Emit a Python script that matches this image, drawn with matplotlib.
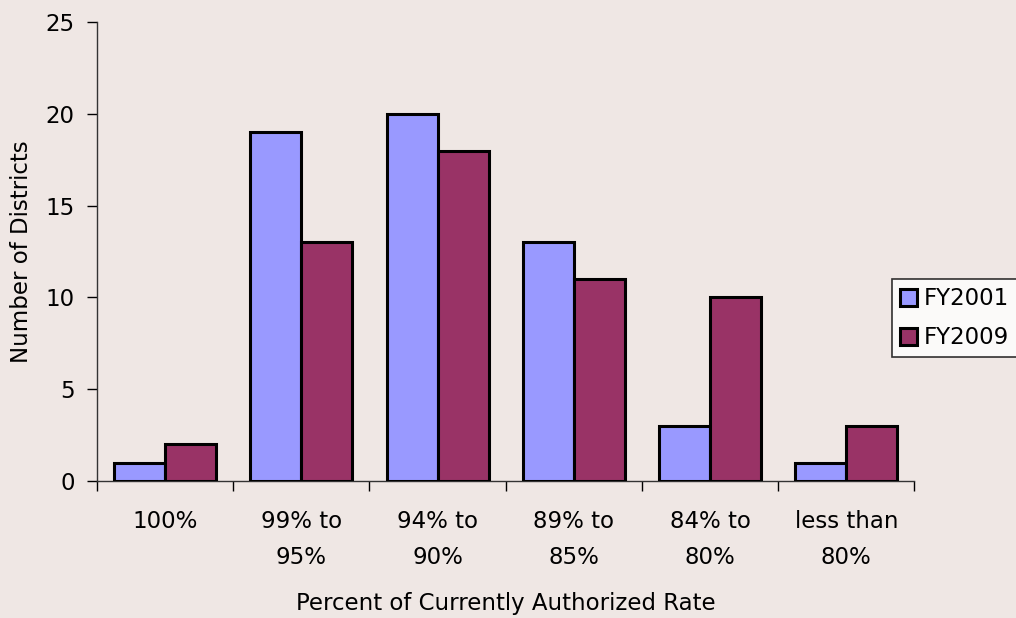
import numpy as np
import matplotlib.pyplot as plt

# Districts by percent of currently authorized rate
categories = ["100%", "99% to\n95%", "94% to\n90%", "89% to\n85%", "84% to\n80%", "less than\n80%"]
fy2001 = [1, 19, 20, 13, 3, 1]
fy2009 = [2, 13, 18, 11, 10, 3]

bg = "#EFE7E4"
fs = 16.5
plt.rcParams['font.family'] = ['DejaVu Sans']

fig = plt.figure(figsize=(10.16, 6.18), dpi=100, facecolor=bg)
ax = fig.add_axes([0.0955, 0.2217, 0.8045, 0.7427], facecolor=bg)

x = np.arange(len(categories))
w = 0.375
ax.bar(x - w / 2, fy2001, w, color="#9999FF", edgecolor="black", linewidth=2.2, label="FY2001", zorder=3)
ax.bar(x + w / 2, fy2009, w, color="#993366", edgecolor="black", linewidth=2.2, label="FY2009", zorder=3)

ax.set_xlim(-0.5, len(categories) - 0.5)
ax.set_ylim(0, 25)
ax.set_yticks(range(0, 26, 5))
ax.tick_params(axis='y', direction='out', length=7, width=1, labelsize=fs, pad=9)

# category labels in the middle, tick marks on the boundaries
ax.set_xticks(x)
ax.set_xticklabels(categories, fontsize=fs, linespacing=1.7)
ax.tick_params(axis='x', length=0, pad=21)
ax.set_xticks(np.arange(-0.5, len(categories)), minor=True)
ax.tick_params(axis='x', which='minor', direction='out', length=7, width=1)

for side in ("top", "right"):
    ax.spines[side].set_visible(False)
for side in ("left", "bottom"):
    ax.spines[side].set_color("#333333")
    ax.spines[side].set_linewidth(1)

ax.set_ylabel("Number of Districts", fontsize=fs, labelpad=9)
ax.set_xlabel("Percent of Currently Authorized Rate", fontsize=fs, labelpad=17)

leg = ax.legend(loc="center left", bbox_to_anchor=(0.878, 0.485), bbox_transform=fig.transFigure,
                fontsize=fs, frameon=True, fancybox=False, edgecolor="black",
                handlelength=0.75, handleheight=0.75, handletextpad=0.3, borderpad=0.35,
                labelspacing=0.7, borderaxespad=0)
leg.get_frame().set_linewidth(1.2)

fig.savefig("out.png", dpi=100, facecolor=bg)
